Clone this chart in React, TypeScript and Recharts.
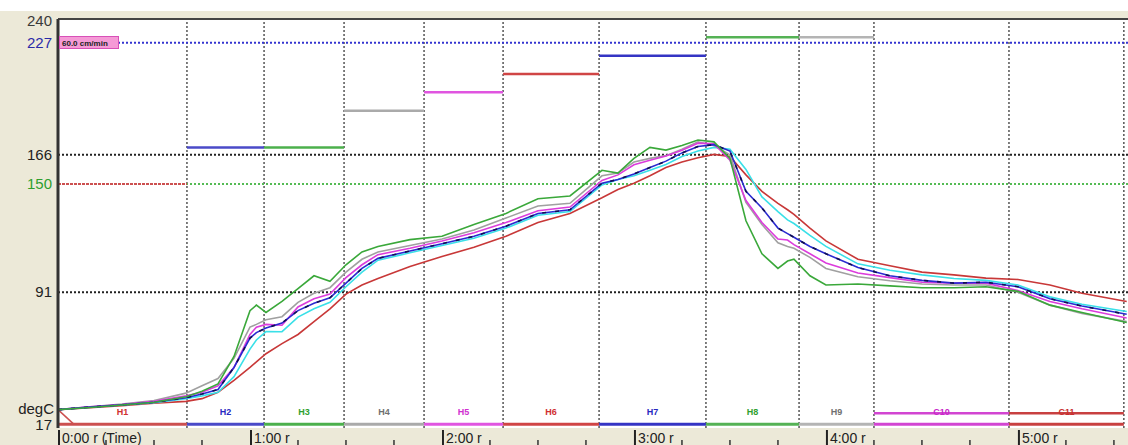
import { LineChart, Line, XAxis, YAxis, ReferenceLine, ReferenceDot, CartesianGrid } from "recharts";

// time in seconds since start
const timeSec = [0, 10, 20, 30, 40, 45, 50, 55, 60, 62, 65, 70, 75, 80, 85, 90, 95, 100, 110, 120, 130, 140, 150, 160, 170, 175, 180, 185, 190, 195, 200, 205, 210, 215, 220, 225, 228, 230, 235, 240, 250, 260, 270, 280, 290, 300, 310, 320, 334];

// thermocouple traces, degC
const tcGreen = [27, 28.2, 29.5, 31, 34, 37, 41, 56, 81, 84, 80, 86, 93, 100, 97, 106, 113, 116, 119.7, 121.5, 128, 134, 142, 143.5, 157.5, 156, 164, 170, 168.5, 171, 174, 173, 164, 130, 112, 104, 108, 109, 100, 95, 95.5, 94.5, 93.5, 93.5, 94, 91.5, 84, 80, 74.5];
const tcGray = [27, 28.6, 30, 32, 36, 40, 44, 55, 72, 73.5, 76, 77.7, 85.5, 90.5, 93.5, 102, 109, 113, 116.5, 120, 125, 131.5, 138, 139.5, 154.5, 156, 162, 164, 165.5, 169, 173, 171, 166, 140, 128, 118, 116, 115, 110, 104, 99.5, 97.3, 95.5, 95, 95, 91, 84, 79.5, 75];
const tcMagenta = [27, 28.5, 29.8, 31.5, 34.5, 36.5, 40, 50, 68, 72, 73.5, 73, 83, 87.5, 90, 99, 106, 111.5, 115, 119, 123.5, 129, 135.5, 137.5, 152, 155, 160.5, 163, 165.3, 168.5, 172.3, 172, 163, 141, 129, 120, 119.5, 117, 112, 107, 101.5, 99, 96.5, 96, 96, 92, 86, 82, 77];
const tcBlue = [27, 28.4, 29.6, 31, 33.5, 35.5, 38, 50, 66, 69, 71.5, 74.2, 81, 85, 88, 96, 104, 109.5, 113.5, 117.5, 121.5, 127, 134, 136, 150.5, 152.5, 155.5, 159, 162.5, 167, 170.5, 171.5, 168, 146, 137, 126, 123, 121, 116, 112, 104.5, 100, 97.5, 96, 96.5, 94, 87.5, 83.5, 79];
const tcCyan = [27, 28.3, 29.5, 30.8, 33, 34.5, 36.5, 45, 60, 65, 69.6, 69.5, 77.5, 82, 85.5, 94, 102, 108.5, 112.5, 116.5, 120.5, 126, 133, 135, 149.5, 152.5, 154.5, 157.5, 160.7, 165, 168, 170, 169, 158, 143, 135, 130.5, 128.5, 122, 116, 106.5, 103, 100.5, 98.5, 97.5, 95, 88.5, 84.5, 80.5];
const tcRed = [27, 28, 29.2, 30.5, 31.5, 33, 36.5, 43, 50, 53, 57.5, 63, 68, 75, 82, 90, 95, 98.5, 105, 110.5, 115.5, 121.5, 129, 134, 142.5, 147, 150.5, 154.5, 159, 162, 164.3, 166.2, 165, 155, 146, 139.5, 136, 133.5, 126, 119, 109, 105.5, 102, 100.5, 98.7, 98, 95, 90.5, 86];

// oven zones
const zoneNames = ["H1", "H2", "H3", "H4", "H5", "H6", "H7", "H8", "H9", "C10", "C11"];
const zoneStart = [0, 40.3, 64.4, 89.4, 114.4, 139.1, 169.1, 202.5, 231.6, 255, 297.2];
const zoneEnd = [40.3, 64.4, 89.4, 114.4, 139.1, 169.1, 202.5, 231.6, 255, 297.2, 333.1];
const zoneSetpoint = [150, 170, 170, 190, 200, 210, 220, 230, 230, 25, 25];
const zoneColors = ["#cc5050", "#4a4ac8", "#4cb04c", "#aaaaaa", "#e055e0", "#d04545", "#3434c4", "#55b255", "#b4b4b4", "#d245d2", "#c84040"];
const zoneTextColors = ["#d03030", "#2828c0", "#30a030", "#707070", "#d030d0", "#d03030", "#2828c0", "#30a030", "#707070", "#c828c8", "#c83030"];
const zoneStripTemp = 19;
const zoneLabelTemp = 25.7;

// axes
const yTicks = [17, 91, 150, 166, 227, 240];
const yTickColors: Record<number, string> = { 17: "#222", 91: "#222", 150: "#2e9e2e", 166: "#222", 227: "#2a2aa8", 240: "#3a3a3a" };
const xTicks = [0, 15, 30, 45, 60, 75, 90, 105, 120, 135, 150, 165, 180, 195, 210, 225, 240, 255, 270, 285, 300, 315, 330];
const xMajorTicks = [0, 60, 120, 180, 240, 300];
const xMajorLabels = ["0:00 r (Time)", "1:00 r", "2:00 r", "3:00 r", "4:00 r", "5:00 r"];

const data = timeSec.map((t, i) => ({
  t,
  green: tcGreen[i],
  gray: tcGray[i],
  magenta: tcMagenta[i],
  blue: tcBlue[i],
  cyan: tcCyan[i],
  red: tcRed[i],
}));

const FONT = "'Liberation Sans', Arial, sans-serif";

function YTick(props: any) {
  const { x, y, payload } = props;
  const v = payload.value;
  const shift = v === 17 ? -3 : v === 240 ? 2 : 0;
  return (
    <g>
      {v === 17 && (
        <text x={x + 2} y={y - 19} dy={5} textAnchor="end" fill="#222" fontSize={15} fontFamily={FONT}>
          degC
        </text>
      )}
      <text x={x} y={y + shift} dy={5} textAnchor="end" fill={yTickColors[v] || "#222"} fontSize={15} fontFamily={FONT}>
        {v}
      </text>
    </g>
  );
}

function XTick(props: any) {
  const { x, payload } = props;
  const idx = xMajorTicks.indexOf(payload.value);
  if (idx < 0) {
    return <line x1={x} x2={x} y1={440} y2={445} stroke="#333" strokeWidth={1.5} />;
  }
  return (
    <g>
      <line x1={x + 1} x2={x + 1} y1={430} y2={445} stroke="#222" strokeWidth={2} />
      <text x={x + 4} y={443} fill="#222" fontSize={14} fontFamily={FONT}>
        {xMajorLabels[idx]}
      </text>
    </g>
  );
}

export default function App() {
  return (
    <div style={{ position: "absolute", left: 0, top: 0, width: 1128, height: 445, background: "#ffffff" }}>
      <div style={{ position: "absolute", left: 0, top: 11, width: 1128, height: 434, background: "#ece9d8" }} />
      <div style={{ position: "absolute", left: 0, top: 0 }}>
        <LineChart width={1128} height={445} data={data} margin={{ top: 19, right: 0, bottom: 0, left: 0 }}>
          <CartesianGrid horizontal={false} vertical={false} fill="#ffffff" />
          <XAxis
            dataKey="t"
            type="number"
            domain={[0, 334.4]}
            ticks={xTicks}
            interval={0}
            height={17}
            axisLine={false}
            tickLine={false}
            tick={<XTick />}
          />
          <YAxis
            type="number"
            domain={[17, 240]}
            ticks={yTicks}
            interval={0}
            width={58}
            axisLine={{ stroke: "#333", strokeWidth: 3 }}
            tickLine={false}
            tickSize={0}
            tickMargin={6}
            tick={<YTick />}
          />
          {zoneEnd.map((e) => (
            <ReferenceLine key={"v" + e} x={e} stroke="#555" strokeWidth={1.5} strokeDasharray="2 2" />
          ))}
          <ReferenceLine y={227} stroke="#3434d0" strokeWidth={2} strokeDasharray="2 2" />
          <ReferenceLine y={166} stroke="#222" strokeWidth={2} strokeDasharray="2 2" />
          <ReferenceLine y={150} stroke="#55bb55" strokeWidth={2} strokeDasharray="2 2" />
          <ReferenceLine y={91} stroke="#222" strokeWidth={2} strokeDasharray="2 2" />
          <ReferenceLine y={240} stroke="#444" strokeWidth={2} />
          {zoneNames.map((n, i) => (
            <ReferenceLine
              key={"sp" + n}
              segment={[{ x: zoneStart[i], y: zoneSetpoint[i] }, { x: zoneEnd[i], y: zoneSetpoint[i] }]}
              stroke={zoneColors[i]}
              strokeWidth={i === 0 ? 2 : 2.5}
              strokeDasharray={i === 0 ? "3 1" : undefined}
            />
          ))}
          {zoneNames.map((n, i) => (
            <ReferenceLine
              key={"st" + n}
              segment={[{ x: zoneStart[i], y: zoneStripTemp }, { x: zoneEnd[i], y: zoneStripTemp }]}
              stroke={zoneColors[i]}
              strokeWidth={3}
            />
          ))}
          <ReferenceLine segment={[{ x: 0, y: 27 }, { x: 5, y: zoneStripTemp }]} stroke="#cc5050" strokeWidth={1.5} />
          {zoneNames.map((n, i) => (
            <ReferenceDot
              key={"lb" + n}
              x={(zoneStart[i] + zoneEnd[i]) / 2}
              y={zoneLabelTemp}
              r={0}
              fill="none"
              stroke="none"
              label={{ value: n, position: "center", fill: zoneTextColors[i], fontSize: 9, fontFamily: FONT, fontWeight: "bold" }}
            />
          ))}
          <Line type="linear" dataKey="red" stroke="#c83838" strokeWidth={1.6} dot={false} isAnimationActive={false} />
          <Line type="linear" dataKey="cyan" stroke="#3ae0e8" strokeWidth={1.6} dot={false} isAnimationActive={false} />
          <Line type="linear" dataKey="gray" stroke="#a0a0a0" strokeWidth={1.6} dot={false} isAnimationActive={false} />
          <Line type="linear" dataKey="magenta" stroke="#dc3cdc" strokeWidth={1.6} dot={false} isAnimationActive={false} />
          <Line type="linear" dataKey="blue" stroke="#2a2ad0" strokeWidth={1.6} dot={false} isAnimationActive={false} />
          <Line type="linear" dataKey="blue" stroke="#101050" strokeWidth={1.6} strokeDasharray="4 9" dot={false} isAnimationActive={false} />
          <Line type="linear" dataKey="green" stroke="#3aa83a" strokeWidth={1.6} dot={false} isAnimationActive={false} />
        </LineChart>
      </div>
      <div
        style={{
          position: "absolute",
          left: 59,
          top: 36,
          width: 60,
          height: 13,
          background: "#f59ad6",
          border: "1px solid #d850b8",
          fontFamily: FONT,
          fontSize: 8,
          fontWeight: "bold",
          lineHeight: "13px",
          color: "#222",
          paddingLeft: 2,
          boxSizing: "border-box",
          whiteSpace: "nowrap",
          overflow: "hidden",
        }}
      >
        60.0 cm/min
      </div>
    </div>
  );
}
